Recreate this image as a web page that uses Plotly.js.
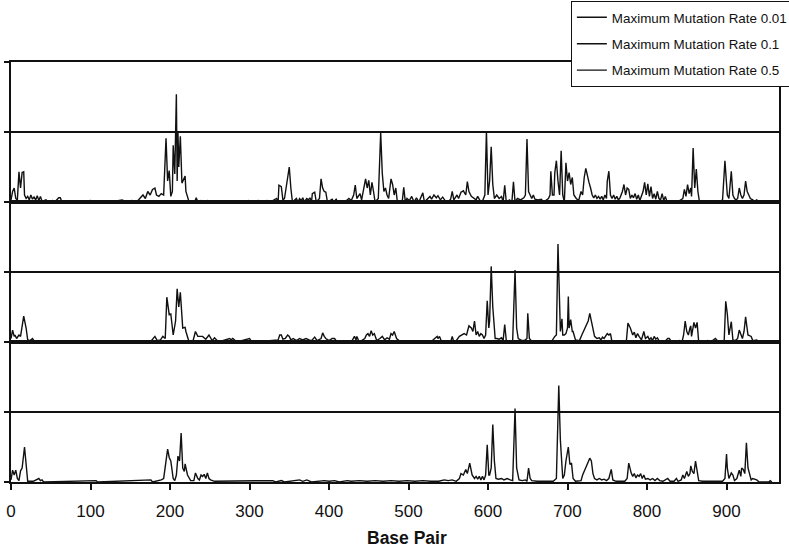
<!DOCTYPE html>
<html><head><meta charset="utf-8">
<script src="https://cdn.plot.ly/plotly-3.0.1.min.js"></script>
<style>html,body{margin:0;padding:0;background:#fff}#chart{width:789px;height:547px}</style>
</head><body><div id="chart"></div>
<script>
const seriesNames = ['Maximum Mutation Rate 0.01', 'Maximum Mutation Rate 0.1', 'Maximum Mutation Rate 0.5'];

const basePair001 = [
  0,2,4,6,8,10,12,14,16,17, 19,21,23,25,27,29,31,33,35,37, 39,44,47,52,56,60,62,64,86,90,
  100,104,120,124,140,145,152,158,166,169, 172,175,178,181,183,186,189,192,195,197,
  199,201,203,204,206,208,209,210,211,213, 215,217,219,220,224,231,233,235,239,243,
  247,251,291,295,299,303,311,315,322,326, 334,336,337,340,342,344,346,348,350,352,
  354,359,361,363,365,367,369,372,374,376, 378,379,382,384,388,390,392,394,396,398,
  404,406,409,411,422,425,428,431,433,435, 437,439,441,444,446,448,450,452,454,456,
  458,462,465,467,469,471,473,475,478,480, 482,484,486,492,494,496,498,501,504,507,
  510,513,518,520,527,529,532,535,537,540, 543,546,549,553,555,557,561,563,566,569,
  572,574,576,579,582,585,587,590,593,596, 598,600,602,604,606,608,611,614,617,619,
  621,623,627,630,632,634,637,641,645,647, 649,651,653,655,657,659,663,667,670,676,
  678,679,681,683,684,686,688,690,692,694, 696,698,700,702,704,706,708,711,714,717,
  719,721,723,725,727,729,731,733,735,737, 739,741,743,745,747,749,750,752,754,756,
  758,760,762,764,766,769,771,773,775,777, 779,781,783,785,787,789,791,795,797,799,
  801,803,805,807,809,811,813,815,817,819, 821,823,825,829,838,845,847,849,851,853,
  855,856,858,860,862,864,866,891,895,898, 900,901,903,906,908,910,912,914,916,918,
  920,922,924,926,928,930,933,935,938,941
];
const rate001 = [
  0.03,0.15,0.2,0.05,0.03,0.43,0.2,0.42,0.43,0.1, 0.05,0.08,0.03,0.1,0.04,0.07,0.03,0.09,0.02,0.08, 0.01,0.03,0,0.02,0.01,0.06,0.06,0,0.02,0,
  0.02,0,0.02,0,0.03,0,0.02,0,0.1,0.05, 0.15,0.1,0.18,0.2,0.1,0.08,0.12,0.1,0.91,0.3,
  0.45,0.08,0.15,0.81,0.4,1.54,0.3,1.0,0.5,0.94, 0.27,0.33,0.37,0.15,0,0,0.06,0,0.02,0,
  0.02,0,0.02,0,0.02,0,0.02,0,0.02,0, 0.05,0,0.24,0.22,0.03,0.05,0.2,0.35,0.5,0.2,
  0,0.05,0,0.05,0.02,0.06,0,0.05,0.03,0.06, 0,0.12,0.14,0,0.05,0.33,0.2,0.15,0.14,0,
  0.04,0,0.04,0,0.02,0.05,0.02,0.1,0.24,0.05, 0.08,0.12,0.03,0.2,0.33,0.2,0.31,0.1,0.28,0.15,
  0,0.05,0.99,0.41,0.15,0.2,0.1,0.05,0.33,0.25, 0.1,0.2,0,0,0.21,0,0.05,0.02,0.08,0,
  0.06,0,0.13,0,0.08,0.04,0.1,0.06,0.09,0.03, 0.07,0.02,0,0.04,0.15,0.03,0.1,0.05,0.14,0.16,
  0.1,0.29,0.15,0.08,0.05,0.03,0.08,0.02,0.01,0.1, 1.01,0.1,0.3,0.79,0.25,0.05,0.1,0.05,0.08,0,
  0.24,0,0.03,0,0.29,0,0.05,0.03,0.06,0.1, 0.9,0.15,0.1,0.05,0.1,0.04,0.03,0.04,0,0.05,
  0.1,0.44,0.1,0.1,0.42,0.59,0.3,0.1,0.73,0.1, 0,0.56,0.3,0.42,0.25,0.35,0.1,0.05,0.02,0.15,
  0.1,0.35,0.48,0.35,0.28,0.2,0.1,0.06,0.1,0.05, 0.08,0.04,0.08,0.03,0.1,0.05,0.3,0.44,0.1,0.05,
  0.1,0.04,0.08,0.03,0.06,0.15,0.25,0.1,0.2,0.18, 0.05,0.1,0.06,0.12,0.04,0.1,0.02,0.15,0.28,0.1,
  0.26,0.08,0.22,0.05,0.12,0.04,0.15,0.05,0.03,0.12, 0.02,0.08,0.01,0.02,0,0.05,0.18,0.08,0.25,0.12,
  0.2,0.08,0.77,0.2,0.47,0.15,0,0,0.03,0.59, 0.2,0.1,0.05,0.44,0.1,0.05,0.03,0.05,0.2,0.1,
  0.05,0.1,0.3,0.15,0.1,0.05,0.03,0.01,0.03,0
];

const basePair01 = [
  0,2,4,5,7,10,12,14,16,19, 21,24,27,30,40,50,60,70,90,107, 110,170,176,181,184,188,191,194,196,199,
  201,204,207,209,211,213,216,219,220,224, 229,232,235,237,241,245,249,253,256,261,
  275,277,279,284,300,303,329,336,338,340, 342,345,348,350,352,355,359,363,367,371,
  375,378,382,385,390,392,394,396,400,404, 407,410,418,428,432,434,435,438,445,447,
  449,451,453,455,457,460,464,467,470,473, 476,478,480,482,485,488,493,503,518,528,
  534,536,537,539,541,545,553,555,557,560, 564,567,570,573,576,579,581,583,585,587,
  589,591,593,595,597,599,601,602,604,606, 607,609,611,614,617,619,621,623,625,628,
  631,634,636,638,641,644,647,649,650,652, 655,662,672,680,684,686,688,690,691,693,
  694,696,698,700,701,702,704,706,707,710, 712,715,718,720,723,726,728,731,734,737,
  740,742,744,746,748,750,752,754,756,761, 771,774,776,779,782,784,786,788,790,793,
  796,798,801,803,805,807,809,811,813,815, 818,822,826,828,831,836,841,844,846,848,
  850,852,854,855,856,857,859,861,863,865, 871,876,880,886,890,897,899,901,903,906,
  908,911,914,916,918,920,922,924,927,931, 933,938,941,946,950,960
];
const rate01 = [
  0.05,0.17,0.08,0.1,0.05,0.1,0.08,0.22,0.37,0.2, 0.03,0.02,0.05,0,0.01,0.01,0.01,0.01,0.01,0.02, 0,0,0.01,0.08,0.02,0.03,0.08,0.05,0.64,0.39,
  0.4,0.1,0.3,0.76,0.5,0.71,0.2,0.21,0.15,0, 0.02,0.15,0.08,0.08,0.08,0.04,0.1,0.02,0.06,0,
  0.05,0.03,0.05,0,0.05,0,0.02,0.03,0.1,0.1, 0.04,0.05,0.1,0.08,0.03,0.05,0.02,0.05,0.03,0.05,
  0.03,0.02,0.07,0.02,0.05,0.13,0.08,0.05,0.02,0.05, 0.05,0,0.02,0,0.08,0.03,0.08,0,0.05,0.1,
  0.12,0.08,0.16,0.1,0.12,0.02,0.05,0.08,0.03,0.06, 0.04,0.12,0.1,0.15,0.05,0.02,0.01,0.01,0.01,0,
  0.06,0.08,0.05,0.08,0.02,0,0,0.08,0,0.02, 0.08,0.1,0.12,0.1,0.23,0.2,0.15,0.3,0.1,0.15,
  0.08,0.12,0.1,0.05,0.1,0.59,0.2,0.3,1.08,0.5, 0.3,0.05,0.05,0.04,0.06,0.02,0.25,0.02,0.02,0.01,
  0.02,1.03,0.2,0.05,0.03,0.02,0.03,0.05,0.41,0.05, 0.01,0.01,0.01,0.01,0.08,0.1,1.4,0.5,0.15,0.33,
  0.1,0.1,0.12,0.2,0.65,0.2,0.32,0.15,0.15,0.03, 0.03,0.02,0.1,0.15,0.25,0.3,0.41,0.25,0.08,0.05,
  0.06,0.03,0.07,0.05,0.08,0.12,0.1,0.12,0,0, 0,0.01,0.27,0.2,0.1,0.14,0.06,0.12,0.08,0.03,
  0.15,0.05,0.08,0.03,0.06,0.02,0.08,0.04,0.06,0.02, 0,0,0.05,0.05,0,0,0.02,0,0.1,0.3,
  0.15,0.1,0.2,0.23,0.08,0.15,0.28,0.2,0.28,0, 0,0.02,0,0.05,0,0,0.58,0.4,0.1,0.29,
  0.03,0.02,0.05,0.17,0.1,0.05,0.15,0.36,0.1,0.08, 0.02,0.03,0,0.01,0,0
];

const basePair05 = [
  0,2,4,6,8,10,12,14,17,19, 21,28,35,37,39,41,107,109,176,178, 189,192,195,197,199,201,204,206,208,210,
  212,214,216,218,219,222,226,230,232,235, 237,239,241,243,245,247,249,251,256,264,
  279,288,294,299,304,329,333,340,344,363, 367,372,378,394,400,407,413,423,428,438,
  448,458,468,478,488,498,508,518,528,538, 545,550,555,560,564,566,569,572,574,577,
  580,583,585,587,589,591,593,595,597,599, 601,602,604,606,608,610,613,617,620,624,
  628,631,634,636,639,643,647,649,651,653, 655,662,672,682,686,689,691,694,696,698,
  701,703,705,707,710,714,717,719,721,723, 726,728,730,732,734,737,740,743,746,749,
  752,755,757,761,766,772,775,777,779,780, 782,784,786,788,790,792,794,796,798,801,
  804,807,810,813,816,820,826,829,834,837, 839,843,845,847,850,852,854,855,857,859,
  861,863,865,870,875,885,895,898,900,901, 903,906,908,910,913,916,918,919,921,923,
  925,927,929,931,933,938,941,953,955,957
];
const rate05 = [
  0.03,0.17,0.1,0.17,0.05,0.02,0.16,0.2,0.5,0.25, 0.01,0.01,0.05,0.02,0.03,0,0.02,0,0.03,0, 0.03,0.05,0.3,0.47,0.35,0.3,0.05,0.02,0.1,0.37,
  0.3,0.7,0.2,0.15,0.26,0.1,0.02,0.02,0.13,0.05, 0.03,0.1,0.08,0.11,0.05,0.13,0.05,0.03,0.01,0.01,
  0.01,0.02,0.01,0.02,0.01,0.02,0,0.02,0,0.03, 0.01,0.03,0,0.02,0.01,0.02,0,0.02,0.01,0.02,
  0.01,0.02,0.01,0.02,0.01,0.02,0.01,0.02,0.01,0.01, 0.03,0.02,0.03,0.01,0.05,0.12,0.1,0.18,0.12,0.27,
  0.1,0.05,0.08,0.04,0.08,0.03,0.08,0.03,0.1,0.53, 0.1,0.1,0.2,0.82,0.3,0.05,0.04,0.05,0.03,0.05,
  0.03,0.02,1.05,0.2,0.03,0.02,0.03,0.01,0.2,0.05, 0.02,0.01,0.01,0.01,0.05,1.38,0.6,0.05,0.1,0.3,
  0.5,0.25,0.27,0.05,0.01,0.01,0.02,0.1,0.15,0.2, 0.3,0.34,0.3,0.12,0.05,0.03,0.05,0.03,0.04,0.02,
  0.05,0.18,0.03,0.01,0.01,0.01,0.05,0.27,0.18,0.13, 0.08,0.12,0.06,0.1,0.08,0.12,0.05,0.1,0.04,0.05,
  0.03,0.05,0.02,0.05,0.02,0.01,0.05,0.01,0.01,0.05, 0.01,0.03,0.1,0.05,0.15,0.08,0.12,0.23,0.15,0.12,
  0.3,0.15,0.02,0.01,0.01,0.01,0.01,0.05,0.4,0.2, 0.05,0.13,0.1,0.02,0.05,0.17,0.08,0.2,0.18,0.12,
  0.56,0.2,0.1,0.03,0.05,0.03,0,0,0.02,0
];

const xTickVals = [0,100,200,300,400,500,600,700,800,900];
const xTickText = ['0','100','200','300','400','500','600','700','800','900'];

const INK = '#111';
const xs = [basePair001, basePair01, basePair05];
const ys = [rate001, rate01, rate05];
const xRefs = ['x', 'x2', 'x3'];
const yRefs = ['y', 'y2', 'y3'];

const traces = seriesNames.map((name, i) => ({
  type: 'scatter', mode: 'lines', name: name,
  x: xs[i], y: ys[i], xaxis: xRefs[i], yaxis: yRefs[i],
  legendgroup: 'g' + i,
  line: { color: INK, width: 1.4 },
  hoverinfo: 'skip'
}));

const LW = 2;
function yAxis(domain, anchor) {
  return {
    domain: domain, anchor: anchor, range: [0, 2], tickvals: [0, 1, 2], showticklabels: false,
    ticks: 'outside', ticklen: 5, tickwidth: LW, tickcolor: INK,
    showline: true, linecolor: INK, linewidth: LW, mirror: true,
    showgrid: true, gridcolor: INK, gridwidth: LW, zeroline: false, fixedrange: true
  };
}
function xPanelAxis(anchor) {
  return {
    anchor: anchor, matches: 'x3', range: [0, 966], showticklabels: false, ticks: '',
    showline: true, linecolor: INK, linewidth: LW, mirror: true,
    showgrid: false, zeroline: false, fixedrange: true
  };
}

const layout = {
  width: 789, height: 547,
  margin: { l: 11, r: 10, t: 62, b: 65, autoexpand: false },
  paper_bgcolor: '#fff', plot_bgcolor: '#fff',
  font: { family: '"Liberation Sans", Arial, sans-serif', color: INK },
  showlegend: true,
  legend: {
    x: 0.729, y: 1.145, xanchor: 'left', yanchor: 'top',
    bordercolor: INK, borderwidth: 1, bgcolor: '#fff',
    font: { size: 13.4, color: INK }, traceorder: 'grouped', tracegroupgap: 6,
    itemwidth: 30
  },
  xaxis: xPanelAxis('y'),
  xaxis2: xPanelAxis('y2'),
  xaxis3: {
    anchor: 'y3', range: [0, 966], tickvals: xTickVals, ticktext: xTickText,
    ticks: 'outside', ticklen: 6, tickwidth: LW, tickcolor: INK, ticklabelstandoff: 7,
    showline: true, linecolor: INK, linewidth: LW, mirror: true,
    showgrid: false, zeroline: false, tickfont: { size: 17, color: INK }, fixedrange: true
  },
  yaxis: yAxis([2/3, 1], 'x'),
  yaxis2: yAxis([1/3, 2/3], 'x2'),
  yaxis3: yAxis([0, 1/3], 'x3'),
  annotations: [{
    text: '<b>Base Pair</b>', xref: 'paper', yref: 'paper', x: 0.515, y: -0.133,
    xanchor: 'center', yanchor: 'middle', showarrow: false,
    font: { size: 17.5, color: INK }
  }]
};

Plotly.newPlot('chart', traces, layout, { displayModeBar: false, staticPlot: true });
</script>
</body></html>
